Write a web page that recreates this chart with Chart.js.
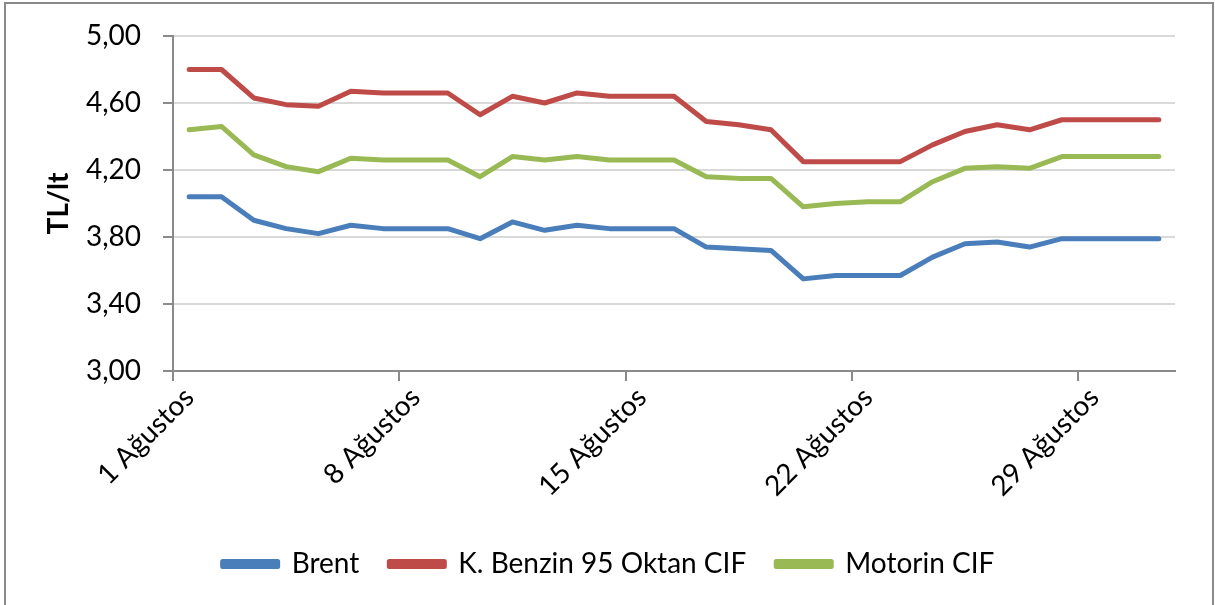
<!DOCTYPE html>
<html lang="tr">
<head>
<meta charset="utf-8">
<title>Brent, Benzin ve Motorin - Ağustos</title>
<script src="https://cdn.jsdelivr.net/npm/chart.js@4"></script>
<style>
    body { margin: 0; background: #fff; }
    #cerceve {
        position: absolute; left: 4px; top: 2px; width: 1210px; height: 640px;
        border: 2px solid #8a8a8a; box-sizing: border-box;
    }
    #kutu { position: absolute; left: 0; top: 0; width: 1215px; height: 605px; }
</style>
</head>
<body>
<div id="cerceve"></div>
<div id="kutu"><canvas id="grafik"></canvas></div>
<script>
// Ağustos günleri (1-31)
const gunler = [];
for (let g = 1; g <= 31; g++) gunler.push(g + ' Ağustos');

// TL/lt değerleri
const brent = [4.04, 4.04, 3.90, 3.85, 3.82, 3.87, 3.85, 3.85, 3.85, 3.79,
               3.89, 3.84, 3.87, 3.85, 3.85, 3.85, 3.74, 3.73, 3.72, 3.55,
               3.57, 3.57, 3.57, 3.68, 3.76, 3.77, 3.74, 3.79, 3.79, 3.79, 3.79];
const benzin = [4.80, 4.80, 4.63, 4.59, 4.58, 4.67, 4.66, 4.66, 4.66, 4.53,
                4.64, 4.60, 4.66, 4.64, 4.64, 4.64, 4.49, 4.47, 4.44, 4.25,
                4.25, 4.25, 4.25, 4.35, 4.43, 4.47, 4.44, 4.50, 4.50, 4.50, 4.50];
const motorin = [4.44, 4.46, 4.29, 4.22, 4.19, 4.27, 4.26, 4.26, 4.26, 4.16,
                 4.28, 4.26, 4.28, 4.26, 4.26, 4.26, 4.16, 4.15, 4.15, 3.98,
                 4.00, 4.01, 4.01, 4.13, 4.21, 4.22, 4.21, 4.28, 4.28, 4.28, 4.28];

const seriAdlari = ['Brent', 'K. Benzin 95 Oktan CIF', 'Motorin CIF'];
const renkler = ['#4a7ebb', '#be4b48', '#98b954'];

const yazi = 'Lato, "Open Sans", sans-serif';

function seri(i, veri) {
    return {
        label: seriAdlari[i],
        data: veri,
        borderColor: renkler[i],
        backgroundColor: renkler[i],
        borderWidth: 5,
        borderCapStyle: 'round',
        borderJoinStyle: 'round',
        pointRadius: 0,
        tension: 0
    };
}

new Chart(document.getElementById('grafik'), {
    type: 'line',
    data: {
        labels: gunler,
        datasets: [seri(0, brent), seri(1, benzin), seri(2, motorin)]
    },
    options: {
        responsive: true,
        maintainAspectRatio: false,
        animation: false,
        layout: { padding: { left: 42, right: 40, top: 34, bottom: 17 } },
        plugins: {
            legend: {
                position: 'bottom',
                labels: {
                    boxWidth: 55,
                    boxHeight: 5,
                    padding: 30,
                    color: '#000',
                    font: { family: yazi, size: 28 }
                }
            },
            tooltip: { enabled: false }
        },
        scales: {
            x: {
                offset: true,
                grid: {
                    offset: true,
                    drawOnChartArea: false,
                    tickLength: 10,
                    lineWidth: 2,
                    color: ctx => (ctx.index % 7 === 0 ? '#8a8a8a' : 'rgba(0,0,0,0)')
                },
                border: { color: '#8a8a8a', width: 2 },
                ticks: {
                    autoSkip: false,
                    minRotation: 45,
                    maxRotation: 45,
                    padding: 0,
                    color: '#000',
                    font: { family: yazi, size: 28 },
                    callback: function (val, i) {
                        return i % 7 === 0 ? this.getLabelForValue(val) : '';
                    }
                },
                afterFit: s => { s.height = 149; }
            },
            y: {
                min: 3,
                max: 5,
                grid: { color: '#d9d9d9', lineWidth: 2, tickLength: 10, tickColor: '#8a8a8a' },
                border: { color: '#8a8a8a', width: 2 },
                ticks: {
                    stepSize: 0.4,
                    padding: 22,
                    color: '#000',
                    font: { family: yazi, size: 28, lineHeight: 1 },
                    callback: v => v.toFixed(2).replace('.', ',')
                },
                title: {
                    display: true,
                    text: 'TL/lt',
                    color: '#000',
                    padding: { top: 0, bottom: 0 },
                    font: { family: yazi, size: 28, weight: 'bold' }
                },
                afterFit: s => { s.width = 131; }
            }
        }
    }
});
</script>
</body>
</html>
